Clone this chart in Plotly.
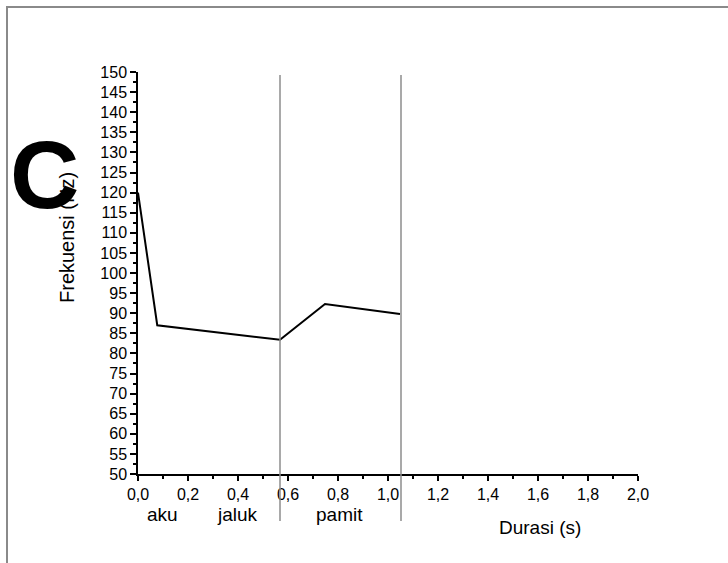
import plotly.graph_objects as go

# Pitch contour of the utterance "aku jaluk pamit"
durasi = [0.0, 0.077, 0.568, 0.748, 1.048]      # time (s)
frekuensi = [120.0, 87.0, 83.4, 92.3, 89.8]     # F0 (Hz)

# word boundaries (s)
batas_kata = [0.568, 1.052]

# word labels and their centre times
kata = ["aku", "jaluk", "pamit"]
posisi_kata = [0.097, 0.397, 0.805]

x_ticks = [0.0, 0.2, 0.4, 0.6, 0.8, 1.0, 1.2, 1.4, 1.6, 1.8, 2.0]
y_ticks = list(range(50, 151, 5))

FONT = "Liberation Sans, Arial, sans-serif"

fig = go.Figure()
fig.add_trace(go.Scatter(
    x=durasi, y=frekuensi, mode="lines",
    line=dict(color="black", width=2),
    showlegend=False, hoverinfo="skip",
))

# grey frame around the panel
fig.add_shape(type="path", xref="paper", yref="paper",
              path="M -0.262,-0.3 L -0.262,1.1617 L 1.3,1.1617",
              line=dict(color="#8a8a8a", width=2))

# word boundary markers
for b in batas_kata:
    fig.add_shape(type="line", xref="x", yref="paper",
                  x0=b, x1=b, y0=-0.117, y1=0.9925,
                  line=dict(color="#8c8c8c", width=1.5))


def label(text, x, y, size, xref="paper", angle=0):
    fig.add_annotation(text=text, x=x, xref=xref, y=y, yref="paper",
                       xanchor="center", yanchor="middle", showarrow=False,
                       textangle=angle,
                       font=dict(size=size, color="black", family=FONT))


for k, p in zip(kata, posisi_kata):
    label(k, p, (474 - 514) / 402, 19, xref="x")

label("Durasi (s)", (540 - 138) / 500, (474 - 527) / 402, 19)
label("Frekuensi (Hz)", (67 - 138) / 500, (474 - 238) / 402, 20, angle=-90)
label("<b>C</b>", (44 - 138) / 500, (474 - 174) / 402, 96)

fig.update_xaxes(
    range=[0, 2.0], tickvals=x_ticks, tickformat=".1f",
    showline=True, linecolor="black", linewidth=2,
    ticks="outside", ticklen=5, tickwidth=1.5, tickcolor="black",
    minor=dict(ticks="outside", dtick=0.1, ticklen=3, tickwidth=1.5, tickcolor="black"),
    showgrid=False, zeroline=False,
    tickfont=dict(size=16, color="black", family=FONT),
)
fig.update_yaxes(
    range=[50, 150], tickvals=y_ticks,
    showline=True, linecolor="black", linewidth=1.5,
    ticks="outside", ticklen=6, tickwidth=1.5, tickcolor="black",
    minor=dict(ticks="outside", dtick=2.5, ticklen=3, tickwidth=1.5, tickcolor="black"),
    showgrid=False, zeroline=False,
    tickfont=dict(size=16, color="black", family=FONT),
)

fig.update_layout(
    width=728, height=563,
    margin=dict(l=138, r=90, t=72, b=89),
    plot_bgcolor="white", paper_bgcolor="white",
    separators=",.",
    font=dict(family=FONT, color="black"),
)

fig.write_html("out.html")
